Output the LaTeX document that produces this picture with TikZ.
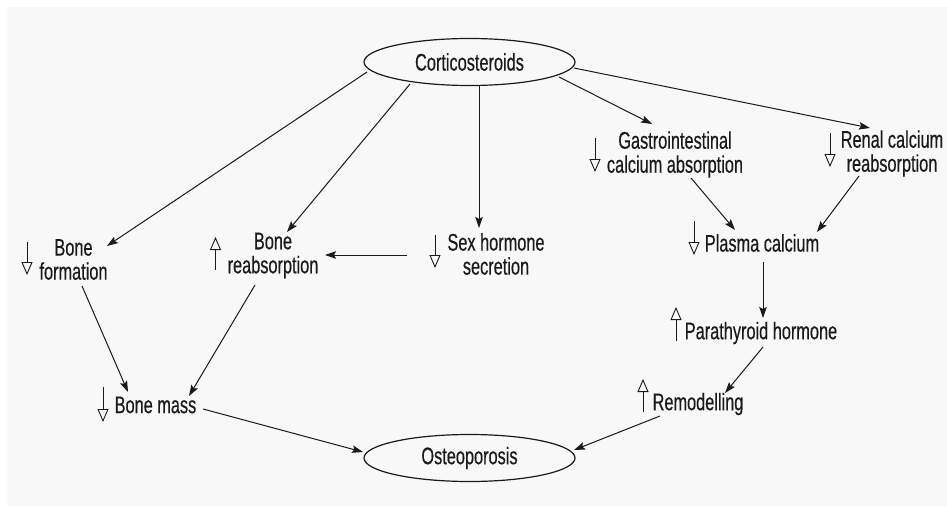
\documentclass[tikz,border=0pt]{standalone}
\usepackage{fontspec}
\setmainfont{Liberation Sans}[FakeStretch=0.68,FakeBold=0.4]
\usetikzlibrary{arrows.meta,shapes.geometric,calc}
\definecolor{colorPaper}{HTML}{F8F8F8}
\definecolor{colorInk}{HTML}{1A1A1A}

\begin{document}
\begin{tikzpicture}[x=1pt,y=-1pt,
  every node/.style={font=\fontsize{24}{24}\selectfont, text=colorInk, inner sep=0pt, align=center},
  oval/.style={ellipse, draw=colorInk, line width=1.2pt, minimum width=211pt, minimum height=47pt},
  link/.style={draw=colorInk, line width=1pt, -{Stealth[length=11pt,width=7.5pt,inset=2pt]}},
  trend/.style={draw=colorInk, line width=0.9pt, -{Triangle[open,length=13pt,width=11pt]}}]

\useasboundingbox (0,0) rectangle (947,508);
\fill[white] (0,0) rectangle (947,508);
\fill[colorPaper] (7,7) rectangle (947,506);

% the two ovals
\node[oval] (cort) at (469.5,62) {Corticosteroids};
\node[oval] (osteo) at (469.5,458) {Osteoporosis};

% effects
\node (bf) at (73.5,259.5) {Bone\\formation};
\node (br) at (273,255.5) {Bone\\reabsorption};
\node (sex) at (496,254) {Sex hormone\\secretion};
\node (gi) at (675,154.5) {Gastrointestinal\\calcium absorption};
\node (renal) at (892,153.5) {Renal calcium\\reabsorption};
\node (plasma) at (762,243) {Plasma calcium};
\node (para) at (761,333) {Parathyroid hormone};
\node (remod) at (698,404) {Remodelling};
\node (bm) at (155.5,405) {Bone mass};

% up and down marks
\draw[trend] (27,242) -- (27,275);
\draw[trend] (215.5,270) -- (215.5,237);
\draw[trend] (435,235) -- (435,268);
\draw[trend] (595,138) -- (595,172);
\draw[trend] (830,133) -- (830,167);
\draw[trend] (694,221) -- (694,255);
\draw[trend] (676,341) -- (676,307);
\draw[trend] (643,412) -- (643,379);
\draw[trend] (103,387) -- (103,422);

% links
\draw[link] ($(cort)+(-102.5,10)$) -- ($(bf)+(33.5,-13.5)$);
\draw[link] ($(cort)+(-59.5,22)$) -- ($(br)+(14,-23.5)$);
\draw[link] ($(cort)+(9.5,23)$) -- ($(sex)+(-17,-26)$);
\draw[link] ($(cort)+(89.5,15)$) -- ($(gi)+(-23,-30.5)$);
\draw[link] ($(cort)+(104.5,6)$) -- ($(renal)+(-22,-25.5)$);
\draw[link] ($(sex)+(-89,1)$) -- ($(br)+(52,-0.5)$);
\draw[link] ($(bf)+(8.5,26.5)$) -- ($(bm)+(-27.5,-13)$);
\draw[link] ($(br)+(-18,29.5)$) -- ($(bm)+(33.5,-9)$);
\draw[link] ($(gi)+(16,23.5)$) -- ($(plasma)+(-27,-13)$);
\draw[link] ($(renal)+(-33,22.5)$) -- ($(plasma)+(55,-11)$);
\draw[link] ($(plasma)+(1,19)$) -- ($(para)+(2,-15)$);
\draw[link] ($(para)+(2,14)$) -- ($(remod)+(27,-11)$);
\draw[link] ($(bm)+(47.5,4)$) -- ($(osteo)+(-106.5,-6)$);
\draw[link] ($(remod)+(-38,12)$) -- ($(osteo)+(104.5,-8)$);

\end{tikzpicture}
\end{document}
